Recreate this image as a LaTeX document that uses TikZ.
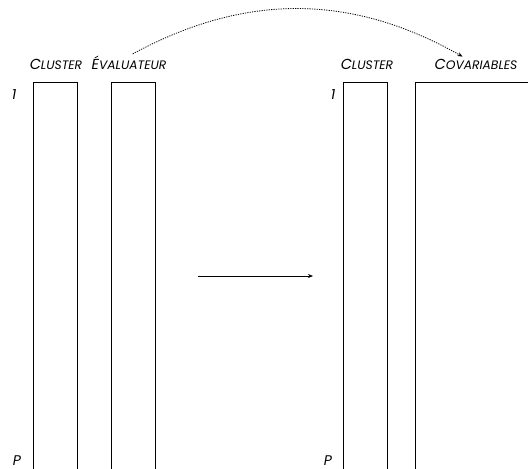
\documentclass[tikz,border=0pt]{standalone}
\usepackage{fontspec}
\setsansfont{Poppins}
\usetikzlibrary{arrows.meta,positioning,calc}
\newcommand{\fsc}[2]{#1{\fontsize{12.3}{12}\selectfont #2}}

\begin{document}
\begin{tikzpicture}[x=1pt,y=-1pt,
  colbox/.style={draw, line width=0.7pt, minimum height=420pt, inner sep=0pt, anchor=north west},
  lbl/.style={font=\sffamily\itshape\fontsize{14.5}{16}\selectfont, inner sep=0pt, anchor=base},
  idx/.style={font=\sffamily\itshape\fontsize{14}{16}\selectfont, inner sep=0pt, anchor=base}]
\useasboundingbox (0,0) rectangle (528,469);
% columns
\node[colbox, minimum width=44pt] (clA) at (33,82) {};
\node[colbox, minimum width=44pt] (evA) at (111,82) {};
\node[colbox, minimum width=44pt] (clB) at (343,82) {};
\node[colbox, minimum width=140pt] (cov) at (415,82) {};
% headers
\node[lbl] (tClA) at (56,69) {\fsc{C}{LUSTER}};
\node[lbl] (tEv) at (129,69) {\fsc{É}{VALUATEUR}};
\node[lbl] (tClB) at (367,69) {\fsc{C}{LUSTER}};
\node[lbl] (tCov) at (476,69) {\fsc{C}{OVARIABLES}};
% row indices
\foreach \nm/\xx/\yy/\tx in {oneA/14/99/1, oneB/333/99/1, pA/17/465/P, pB/328/465/P}
  \node[idx] (\nm) at (\xx,\yy) {\tx};
% arrows
\coordinate (arrA) at (198,276);
\coordinate (arrB) at (313,276);
\draw[line width=0.7pt, -{Stealth[length=5pt,width=4pt]}] (arrA) -- (arrB);
\draw[line width=0.8pt, dash pattern=on 1.2pt off 1.2pt, -{Stealth[length=5pt,width=4pt]},
  shorten <=3pt, shorten >=4pt] ([xshift=1pt]tEv.north) to[bend left=29] ([xshift=-10pt]tCov.north);
\end{tikzpicture}
\end{document}
